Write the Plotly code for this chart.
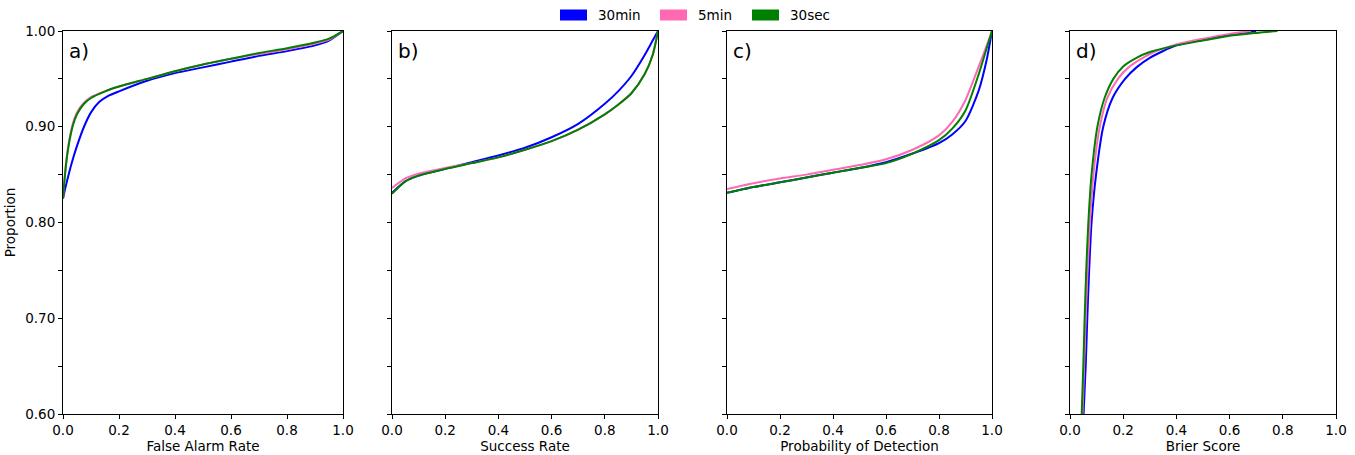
import plotly.graph_objects as go

# ---------------- data ----------------
series_names = ["30min", "5min", "30sec"]
series_colors = ["#0000ff", "#ff69b4", "#008000"]

# a) False Alarm Rate
far_x_30min = [0.0, 0.01, 0.02, 0.035, 0.05, 0.075, 0.1, 0.13, 0.16, 0.2, 0.3, 0.4, 0.5, 0.6, 0.7, 0.8, 0.9, 0.95, 1.0]
far_y_30min = [0.825, 0.838, 0.85, 0.866, 0.88, 0.9, 0.915, 0.926, 0.932, 0.937, 0.948, 0.956, 0.962, 0.968, 0.974, 0.979, 0.985, 0.99, 1.0]
far_x_5min = [0.0, 0.01, 0.02, 0.035, 0.05, 0.075, 0.1, 0.15, 0.2, 0.3, 0.4, 0.5, 0.6, 0.7, 0.8, 0.9, 0.95, 1.0]
far_y_5min = [0.825, 0.86, 0.882, 0.903, 0.915, 0.925, 0.931, 0.937, 0.942, 0.95, 0.958, 0.965, 0.971, 0.976, 0.981, 0.987, 0.991, 1.0]
far_x_30sec = [0.0, 0.01, 0.02, 0.035, 0.05, 0.075, 0.1, 0.15, 0.2, 0.3, 0.4, 0.5, 0.6, 0.7, 0.8, 0.9, 0.95, 1.0]
far_y_30sec = [0.825, 0.858, 0.88, 0.901, 0.913, 0.924, 0.93, 0.937, 0.942, 0.95, 0.958, 0.965, 0.971, 0.977, 0.982, 0.988, 0.992, 1.0]

# b) Success Rate
sr_x = [0.0, 0.05, 0.1, 0.2, 0.3, 0.4, 0.5, 0.6, 0.7, 0.8, 0.85, 0.9, 0.95, 0.98, 1.0]
sr_y_30min = [0.831, 0.843, 0.849, 0.856, 0.863, 0.870, 0.878, 0.889, 0.903, 0.924, 0.937, 0.953, 0.975, 0.99, 1.0]
sr_y_5min = [0.836, 0.846, 0.851, 0.857, 0.862, 0.868, 0.876, 0.885, 0.897, 0.913, 0.923, 0.935, 0.955, 0.975, 1.0]
sr_y_30sec = [0.830, 0.843, 0.849, 0.856, 0.862, 0.868, 0.876, 0.885, 0.897, 0.913, 0.923, 0.935, 0.955, 0.975, 1.0]

# c) Probability of Detection
pod_x = [0.0, 0.1, 0.2, 0.3, 0.4, 0.5, 0.6, 0.7, 0.8, 0.85, 0.9, 0.95, 0.98, 1.0]
pod_y_30min = [0.831, 0.837, 0.842, 0.847, 0.852, 0.857, 0.863, 0.872, 0.883, 0.892, 0.906, 0.938, 0.97, 1.0]
pod_y_5min = [0.835, 0.841, 0.846, 0.850, 0.855, 0.860, 0.866, 0.876, 0.891, 0.905, 0.928, 0.963, 0.985, 1.0]
pod_y_30sec = [0.831, 0.837, 0.842, 0.847, 0.852, 0.857, 0.862, 0.872, 0.886, 0.898, 0.917, 0.955, 0.982, 1.0]

# d) Brier Score
bs_x_30min = [0.051, 0.059, 0.065, 0.072, 0.081, 0.098, 0.125, 0.16, 0.207, 0.25, 0.3, 0.4, 0.5, 0.6, 0.7]
bs_y_30min = [0.60, 0.65, 0.70, 0.75, 0.80, 0.85, 0.90, 0.93, 0.95, 0.962, 0.972, 0.985, 0.991, 0.996, 1.0]
bs_x_5min = [0.047, 0.053, 0.059, 0.066, 0.075, 0.088, 0.112, 0.14, 0.18, 0.22, 0.3, 0.4, 0.5, 0.6, 0.68]
bs_y_5min = [0.60, 0.65, 0.70, 0.75, 0.80, 0.85, 0.90, 0.93, 0.95, 0.962, 0.976, 0.986, 0.992, 0.997, 1.0]
bs_x_30sec = [0.044, 0.05, 0.055, 0.061, 0.069, 0.081, 0.103, 0.13, 0.163, 0.2, 0.25, 0.3, 0.4, 0.5, 0.6, 0.7, 0.78]
bs_y_30sec = [0.60, 0.65, 0.70, 0.75, 0.80, 0.85, 0.90, 0.93, 0.95, 0.963, 0.972, 0.978, 0.985, 0.99, 0.995, 0.998, 1.0]

panel_labels = ["a)", "b)", "c)", "d)"]
x_titles = ["False Alarm Rate", "Success Rate", "Probability of Detection", "Brier Score"]
x_tickvals = [0.0, 0.2, 0.4, 0.6, 0.8, 1.0]
x_ticktext = ["0.0", "0.2", "0.4", "0.6", "0.8", "1.0"]
y_tickvals = [0.60, 0.65, 0.70, 0.75, 0.80, 0.85, 0.90, 0.95, 1.00]
y_ticktext = ["0.60", "", "0.70", "", "0.80", "", "0.90", "", "1.00"]

panels = [
    [(far_x_30min, far_y_30min), (far_x_5min, far_y_5min), (far_x_30sec, far_y_30sec)],
    [(sr_x, sr_y_30min), (sr_x, sr_y_5min), (sr_x, sr_y_30sec)],
    [(pod_x, pod_y_30min), (pod_x, pod_y_5min), (pod_x, pod_y_30sec)],
    [(bs_x_30min, bs_y_30min), (bs_x_5min, bs_y_5min), (bs_x_30sec, bs_y_30sec)],
]

# ---------------- layout ----------------
W, H = 1355, 455
x_domains_px = [(63, 343), (392, 658), (727, 992), (1070, 1336)]
y_domain_px = (31, 414)
FONT = "DejaVu Sans"
FS = 13.5

fig = go.Figure()
layout = dict(
    width=W, height=H, margin=dict(l=0, r=0, t=0, b=0, autoexpand=False),
    paper_bgcolor="white", plot_bgcolor="white",
    font=dict(family=FONT, size=FS, color="black"),
    showlegend=False,
)

ydom = [(H - y_domain_px[1]) / H, (H - y_domain_px[0]) / H]
annotations = []
for i, (curves, lab, xt) in enumerate(zip(panels, panel_labels, x_titles)):
    n = "" if i == 0 else str(i + 1)
    for (xs, ys), name, col in zip(curves, series_names, series_colors):
        fig.add_trace(go.Scatter(
            x=xs, y=ys, mode="lines", name=name,
            line=dict(color=col, width=2, shape="spline", smoothing=0.7),
            xaxis="x" + n, yaxis="y" + n,
        ))
    x0, x1 = x_domains_px[i]
    layout["xaxis" + n] = dict(
        domain=[x0 / W, x1 / W], range=[0, 1], anchor="y" + n, automargin=False,
        tickvals=x_tickvals, ticktext=x_ticktext, ticks="outside", ticklen=4,
        tickwidth=1, tickcolor="black", showline=True, linecolor="black", linewidth=1,
        mirror=True, showgrid=False, zeroline=False,
        title=dict(text=xt, standoff=4, font=dict(size=FS)),
        tickfont=dict(size=FS),
    )
    layout["yaxis" + n] = dict(
        domain=ydom, range=[0.6, 1.0], anchor="x" + n, automargin=False,
        tickvals=y_tickvals, ticktext=y_ticktext, ticks="outside", ticklen=4,
        tickwidth=1, tickcolor="black", showline=True, linecolor="black", linewidth=1,
        mirror=True, showgrid=False, zeroline=False, showticklabels=(i == 0),
        tickfont=dict(size=FS),
    )
    if i == 0:
        layout["yaxis"]["title"] = dict(text="Proportion", standoff=6, font=dict(size=FS))
    annotations.append(dict(
        text=lab, xref=("x" + n) + " domain", yref=("y" + n) + " domain",
        x=0.015, y=0.985, xanchor="left", yanchor="top", showarrow=False,
        font=dict(size=20, family=FONT, color="black"),
    ))

# legend drawn as patches + labels, centered at the top
shapes = []
leg_y_px = 15
patch_x_px = [560, 660, 752]
for px, name, col in zip(patch_x_px, series_names, series_colors):
    shapes.append(dict(
        type="rect", xref="paper", yref="paper",
        x0=px / W, x1=(px + 27) / W,
        y0=(H - leg_y_px - 5.5) / H, y1=(H - leg_y_px + 5.5) / H,
        fillcolor=col, line=dict(width=0),
    ))
    annotations.append(dict(
        text=name, xref="paper", yref="paper", x=(px + 36) / W, y=(H - leg_y_px) / H,
        xanchor="left", yanchor="middle", showarrow=False,
        font=dict(size=FS, family=FONT, color="black"),
    ))

layout["annotations"] = annotations
layout["shapes"] = shapes
fig.update_layout(**layout)
fig.write_html(
    "out.html",
    config={"displayModeBar": False},
    post_script="document.body.style.margin='0';document.body.style.padding='0';",
)
